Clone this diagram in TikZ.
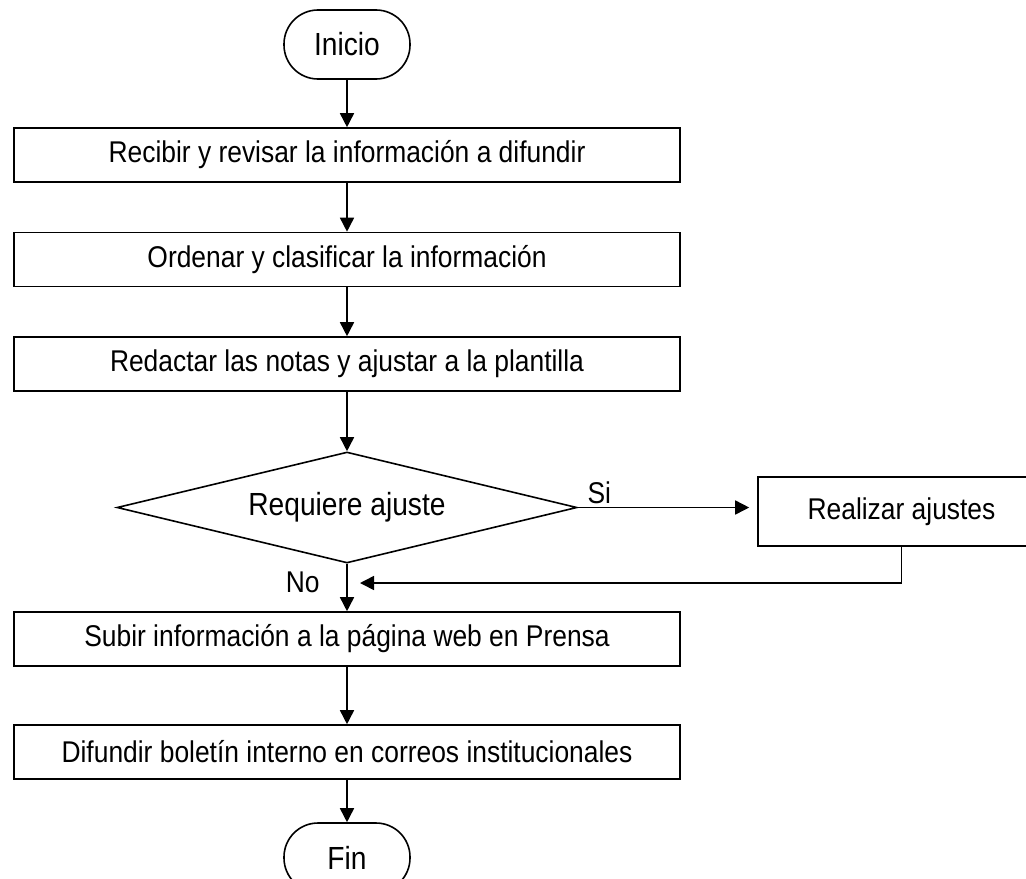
\documentclass[tikz,border=0pt]{standalone}
\usepackage{fontspec}
\setmainfont{Liberation Sans}[FakeStretch=0.88]
\usetikzlibrary{arrows.meta,shapes.geometric}

\begin{document}
\begin{tikzpicture}[x=0.5pt,y=-0.5pt,
    font=\fontsize{15}{18}\selectfont,
    terminal/.style={draw,line width=0.8pt,rounded corners=17pt,minimum width=63pt,minimum height=34.5pt,inner sep=0pt,font=\fontsize{16}{19}\selectfont},
    paso/.style={draw,line width=0.8pt,minimum width=333pt,minimum height=27pt,inner sep=0pt},
    decision/.style={draw,line width=0.8pt,diamond,aspect=4.14,minimum width=230pt,minimum height=55.5pt,inner sep=0pt,font=\fontsize{16}{19}\selectfont},
    flecha/.style={line width=0.8pt,-{Triangle[length=7pt,width=7pt]}}]
      \useasboundingbox (0,0) rectangle (1026,878);
      \node[terminal] (inicio) at (347,44.5) {Inicio};
      \node[paso] (recibir) at (347,155) {Recibir y revisar la información a difundir};
      \node[paso] (ordenar) at (347,259.5) {Ordenar y clasificar la información};
      \node[paso] (redactar) at (347,364) {Redactar las notas y ajustar a la plantilla};
      \node[decision] (requiere) at (347,507.5) {Requiere ajuste};
      \node[draw,line width=0.8pt,minimum width=143.5pt,minimum height=34.5pt,inner sep=0pt] (realizar) at (901.5,511.5) {Realizar ajustes};
      \node[paso] (subir) at (347,639) {Subir información a la página web en Prensa};
      \node[paso] (difundir) at (347,752) {Difundir boletín interno en correos institucionales};
      \node[terminal] (fin) at (347,857.5) {Fin};
      \coordinate (retorno) at (360,583);

      \draw[flecha] (inicio) -- (recibir); \draw[flecha] (recibir) -- (ordenar); \draw[flecha] (ordenar) -- (redactar); \draw[flecha] (redactar) -- (requiere);
      \draw[flecha] (requiere) -- node[left=10pt,pos=0.4] (no) {No} (subir); \draw[flecha] (subir) -- (difundir); \draw[flecha] (difundir) -- (fin);
      \draw[flecha,shorten >=4pt] (requiere.east) -- node[pos=0.12,above=-2pt] (si) {Si} (requiere.east -| realizar.west);
      \draw[flecha] (realizar) |- (retorno);
    \end{tikzpicture}
\end{document}
